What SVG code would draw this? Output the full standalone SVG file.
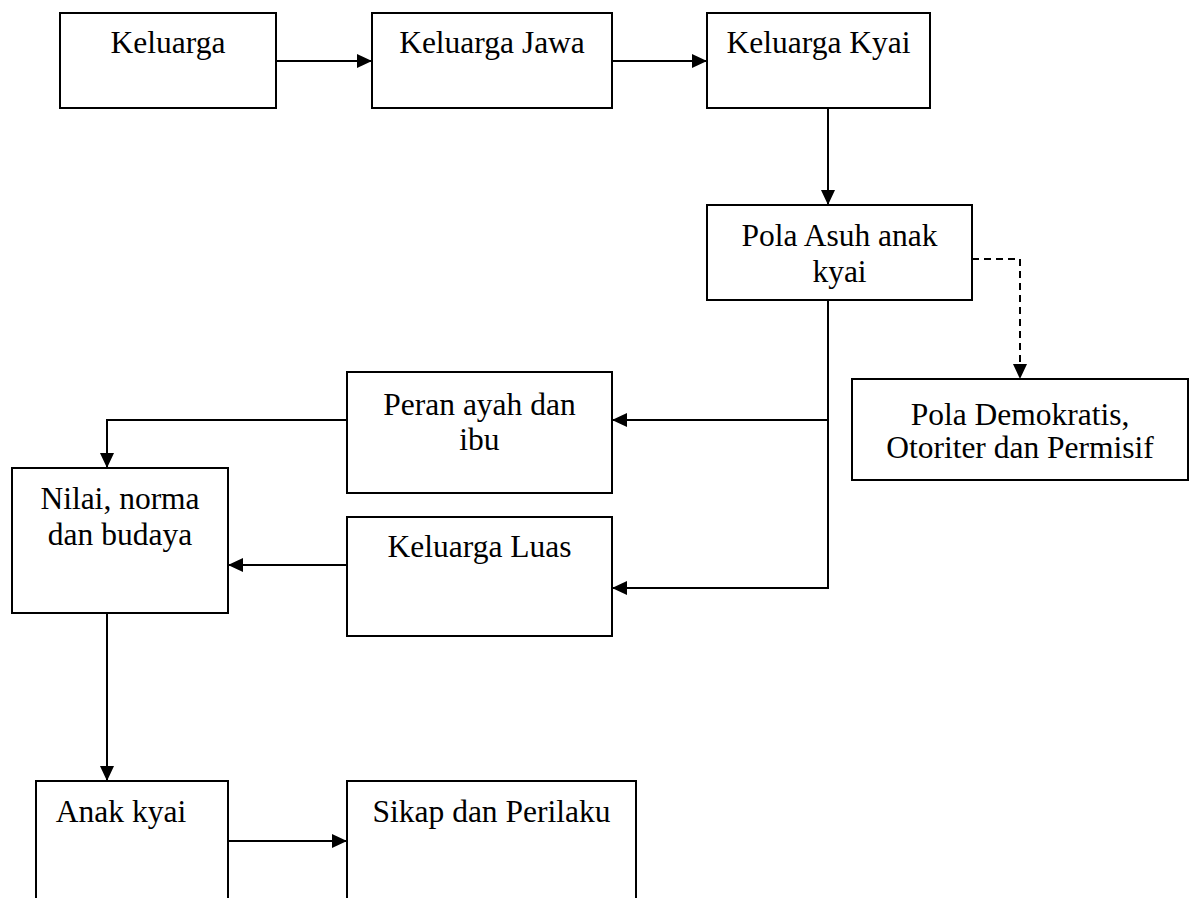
<svg xmlns="http://www.w3.org/2000/svg" width="1195" height="898" viewBox="0 0 1195 898">
<style>
.box{fill:#fff;stroke:#000;stroke-width:2}
.t{font-family:"Liberation Serif","Times New Roman",serif;font-size:31.5px;fill:#000;text-anchor:middle}
.c{fill:none;stroke:#000;stroke-width:2}
.d{stroke-dasharray:7 5}
</style>
<defs>
<marker id="ah" markerUnits="userSpaceOnUse" markerWidth="15" markerHeight="14" refX="15" refY="7" orient="auto">
<path d="M0,0 L15,7 L0,14 z" fill="#000"/>
</marker>
</defs>
<rect width="1195" height="898" fill="#fff"/>
<g id="connectors">
<path class="c" d="M276,61 H372" marker-end="url(#ah)"/>
<path class="c" d="M612,61 H707" marker-end="url(#ah)"/>
<path class="c" d="M828,108 V205" marker-end="url(#ah)"/>
<path class="c" d="M828,300 V420 H612" marker-end="url(#ah)"/>
<path class="c" d="M828,420 V588 H612" marker-end="url(#ah)"/>
<path class="c d" d="M972,259 H1020 V379" marker-end="url(#ah)"/>
<path class="c" d="M347,420 H107 V468" marker-end="url(#ah)"/>
<path class="c" d="M347,565 H228" marker-end="url(#ah)"/>
<path class="c" d="M107,613 V781" marker-end="url(#ah)"/>
<path class="c" d="M228,841 H347" marker-end="url(#ah)"/>
</g>
<g id="keluarga"><rect class="box" x="60" y="13" width="216" height="95"/><text class="t" x="168" y="53">Keluarga</text></g>
<g id="keluarga-jawa"><rect class="box" x="372" y="13" width="240" height="95"/><text class="t" x="492" y="53">Keluarga Jawa</text></g>
<g id="keluarga-kyai"><rect class="box" x="707" y="13" width="223" height="95"/><text class="t" x="818.5" y="53">Keluarga Kyai</text></g>
<g id="pola-asuh"><rect class="box" x="707" y="205" width="265" height="95"/><text class="t" x="839.5" y="246">Pola Asuh anak</text><text class="t" x="839.5" y="282">kyai</text></g>
<g id="pola-demokratis"><rect class="box" x="852" y="379" width="336" height="101"/><text class="t" x="1020" y="425">Pola Demokratis,</text><text class="t" x="1020" y="458">Otoriter dan Permisif</text></g>
<g id="peran"><rect class="box" x="347" y="372" width="265" height="121"/><text class="t" x="479.5" y="415">Peran ayah dan</text><text class="t" x="479.5" y="450">ibu</text></g>
<g id="keluarga-luas"><rect class="box" x="347" y="517" width="265" height="119"/><text class="t" x="479.5" y="557">Keluarga Luas</text></g>
<g id="nilai"><rect class="box" x="12" y="468" width="216" height="145"/><text class="t" x="120" y="509">Nilai, norma</text><text class="t" x="120" y="545">dan budaya</text></g>
<g id="anak-kyai"><rect class="box" x="36" y="781" width="192" height="130"/><text class="t" x="121" y="822">Anak kyai</text></g>
<g id="sikap"><rect class="box" x="347" y="781" width="289" height="130"/><text class="t" x="491.5" y="822">Sikap dan Perilaku</text></g>
</svg>
